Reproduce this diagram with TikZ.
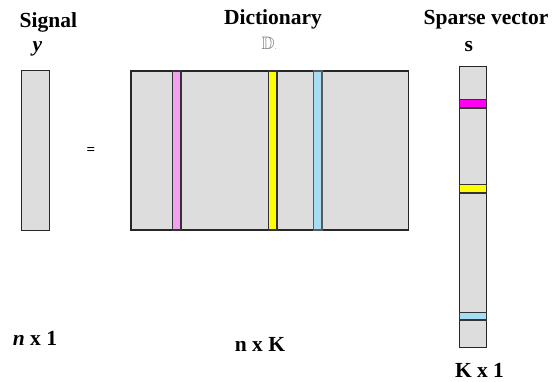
\documentclass[tikz,border=0pt]{standalone}
\usepackage{amssymb}
\usepackage{fontspec}
\setmainfont{Liberation Serif}
\begin{document}
\begin{tikzpicture}[x=1pt,y=-1pt,
  box/.style={draw=black!85,line width=1.5pt,fill=boxgray},
  band/.style={draw=black!80,line width=1.2pt},
  lbl/.style={anchor=base,inner sep=0pt,font=\fontsize{21.5}{25}\selectfont\bfseries}]
\definecolor{boxgray}{HTML}{DDDDDD}
\definecolor{pinkband}{HTML}{F4A0F0}
\definecolor{yellowband}{HTML}{FFFF00}
\definecolor{blueband}{HTML}{A6DCF4}
\definecolor{magband}{HTML}{FF00F0}
\useasboundingbox (0,0) rectangle (552,382);

% signal vector y
\draw[box] (21.7,70.7) rectangle (49.3,230.5);
\node[lbl] (sigtitle) at (48.3,28) {Signal};
\node[lbl] (sigsym) at (37.5,51.5) {\itshape y};
\node[lbl] (sigdim) at (35,345) {\itshape n\upshape\ x 1};

% equals sign
\node[inner sep=0pt,font=\fontsize{15}{15}\selectfont\bfseries] (eq) at (91,151.2) {=};

% dictionary matrix D with three highlighted atoms
\draw[box] (131,71) rectangle (408.7,230);
\draw[band,fill=pinkband] (172.3,71) rectangle (181,230);
\draw[band,fill=yellowband] (268.7,71) rectangle (277,230);
\draw[band,draw=black!65,fill=blueband] (313.7,71) rectangle (322,230);
\node[lbl] (dicttitle) at (273,25) {Dictionary};
\node[anchor=base,inner sep=0pt,text=black!55,font=\fontsize{18}{18}\selectfont] (dictsym) at (269,50) {$\mathbb{D}$\raisebox{0pt}{\fontsize{7}{7}\selectfont.}};
\node[lbl] (dictdim) at (260,351.7) {n x K};

% sparse coefficient vector s
\draw[box] (459.3,66.3) rectangle (486.7,347.7);
\draw[band,fill=magband] (459.3,99.7) rectangle (486.7,108);
\draw[band,fill=yellowband] (459.3,184.3) rectangle (486.7,193);
\draw[band,fill=blueband] (459.3,312.3) rectangle (486.7,320);
\node[lbl] (sptitle) at (486,25) {Sparse vector};
\node[lbl] (spsym) at (468.7,51.7) {s};
\node[lbl] (spdim) at (479.5,377.3) {K x 1};
\end{tikzpicture}
\end{document}
